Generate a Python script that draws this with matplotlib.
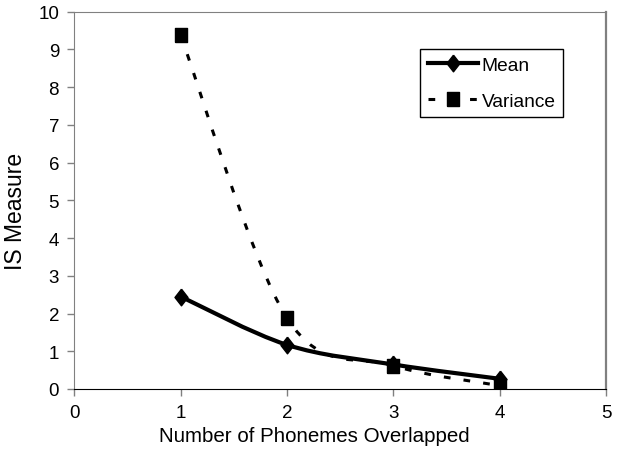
import numpy as np
import matplotlib
matplotlib.use('Agg')
import matplotlib.pyplot as plt
from matplotlib.path import Path
from matplotlib.patches import PathPatch
from matplotlib.lines import Line2D

plt.rcParams['font.family'] = ['Liberation Sans', 'DejaVu Sans']

# data
overlap = [1, 2, 3, 4]
mean_is = [2.45, 1.17, 0.65, 0.27]
var_is = [9.37, 1.88, 0.62, 0.09]
x_ticks = [0, 1, 2, 3, 4, 5]
y_ticks = list(range(0, 11))


def smooth_path(xs, ys):
    # excel style smoothed line: bezier segments through the data points
    pts = np.column_stack([xs, ys]).astype(float)
    n = len(pts)
    verts = [pts[0]]
    codes = [Path.MOVETO]
    for i in range(n - 1):
        p0 = pts[max(i - 1, 0)]
        p1 = pts[i]
        p2 = pts[i + 1]
        p3 = pts[min(i + 2, n - 1)]
        verts += [p1 + (p2 - p0) / 6, p2 - (p3 - p1) / 6, p2]
        codes += [Path.CURVE4] * 3
    return Path(verts, codes)


diamond = [(0, 1), (0.78, 0), (0, -1), (-0.78, 0), (0, 1)]
square = [(-0.43, -0.5), (0.43, -0.5), (0.43, 0.5), (-0.43, 0.5), (-0.43, -0.5)]
var_dash = (0, (2.2, 4.3))

fig = plt.figure(figsize=(6.22, 4.6), dpi=100)
ax = fig.add_axes([0.1195, 0.1522, 0.8548, 0.8202])

ax.add_patch(PathPatch(smooth_path(overlap, var_is), fill=False, edgecolor='k',
                       lw=2.2, linestyle=var_dash, capstyle='butt'))
ax.add_patch(PathPatch(smooth_path(overlap, mean_is), fill=False, edgecolor='k',
                       lw=3, joinstyle='round'))
ax.plot(overlap, var_is, ls='none', marker=square, ms=10, color='k', zorder=3)
ax.plot(overlap, mean_is, ls='none', marker=diamond, ms=12, color='k', zorder=4)

ax.set_xlim(0, 5)
ax.set_ylim(0, 10)
ax.set_xticks(x_ticks)
ax.set_yticks(y_ticks)
ax.tick_params(direction='out', length=5, width=1, color='#808080', pad=6, labelsize=13.5)

for side in ['left', 'top', 'right']:
    ax.spines[side].set_color('#808080')
ax.spines['right'].set_linewidth(1.6)
ax.spines['bottom'].set_color('k')

ax.set_xlabel('Number of Phonemes Overlapped', fontsize=14.8)
ax.xaxis.set_label_coords(0.451, -0.098)
ax.set_ylabel('IS Measure', fontsize=16.5)
ax.yaxis.set_label_coords(-0.089, 0.472)

handles = [
    Line2D([], [], color='k', lw=3, marker=diamond, ms=12),
    Line2D([], [], color='k', lw=2.2, ls=(0, (2.2, 4.6)), marker=square, ms=10),
]
leg = ax.legend(handles, ['Mean', 'Variance'], loc='upper left',
                bbox_to_anchor=(0.651, 0.901), fontsize=13.8, frameon=True,
                fancybox=False, framealpha=1, edgecolor='k',
                handlelength=2.6, handletextpad=0.2, borderpad=0.4,
                labelspacing=0.95, borderaxespad=0)
leg.get_frame().set_linewidth(1)

fig.savefig('out.png', dpi=100)
